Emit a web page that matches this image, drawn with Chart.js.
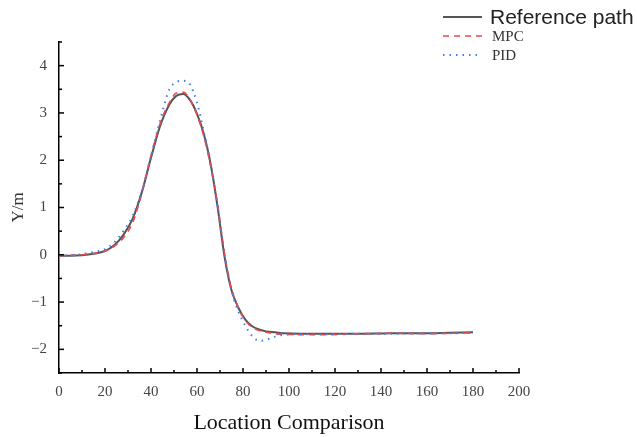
<!DOCTYPE html>
<html>
<head>
    <title>Location Comparison</title>
    <script src="https://cdn.jsdelivr.net/npm/chart.js"></script>
    <style>
        body { margin: 0; background: #fff; }
        canvas { display: block; }
    </style>
</head>
<body>
    <canvas id="pathChart" width="637" height="437"></canvas>

    <script>
        // x positions (m) shared by all three traces
        var xs = [0, 5, 10, 15, 20, 24, 28, 32, 36, 40, 44, 48, 51, 54, 57, 60, 63, 66, 69, 72,
                  75, 78, 81, 84, 87, 90, 94, 98, 105, 115, 130, 145, 160, 170, 180];

        var refPath = [-0.02, -0.02, -0.01, 0.02, 0.08, 0.2, 0.42, 0.76, 1.32, 2.05, 2.73, 3.18, 3.36, 3.4, 3.27, 2.98, 2.55, 1.9, 1.0, -0.05,
                       -0.75, -1.12, -1.37, -1.51, -1.58, -1.62, -1.64, -1.66, -1.67, -1.67, -1.67, -1.66, -1.66, -1.65, -1.64];

        var mpcPath = [-0.02, -0.01, 0.0, 0.03, 0.08, 0.18, 0.36, 0.68, 1.3, 2.1, 2.78, 3.22, 3.42, 3.44, 3.28, 2.96, 2.5, 1.86, 1.05, 0.02,
                       -0.72, -1.12, -1.39, -1.53, -1.6, -1.64, -1.67, -1.68, -1.69, -1.69, -1.67, -1.66, -1.67, -1.66, -1.65];

        var pidPath = [-0.02, -0.01, 0.01, 0.06, 0.12, 0.26, 0.5, 0.82, 1.35, 2.08, 2.85, 3.5, 3.65, 3.68, 3.6, 3.22, 2.6, 1.9, 0.98, 0.0,
                       -0.75, -1.2, -1.5, -1.72, -1.82, -1.8, -1.73, -1.69, -1.68, -1.68, -1.67, -1.67, -1.66, -1.66, -1.65];

        var xTicks = [0, 20, 40, 60, 80, 100, 120, 140, 160, 180, 200];
        var yTicks = [-2, -1, 0, 1, 2, 3, 4];

        function toPoints(ys) {
            return xs.map(function(x, i) { return { x: x, y: ys[i] }; });
        }

        var serif = '"Liberation Serif", "Times New Roman", serif';

        // ticks drawn pointing into the plot, long on labelled values, short between
        var inwardTicks = {
            id: 'inwardTicks',
            afterDraw: function(chart) {
                var ctx = chart.ctx;
                var sx = chart.scales.x, sy = chart.scales.y;
                var area = chart.chartArea;
                ctx.save();
                ctx.strokeStyle = '#000';
                ctx.lineWidth = 1.5;
                sx.ticks.forEach(function(t) {
                    var px = sx.getPixelForValue(t.value);
                    var len = xTicks.indexOf(t.value) >= 0 ? 5 : 3;
                    ctx.beginPath();
                    ctx.moveTo(px, area.bottom);
                    ctx.lineTo(px, area.bottom - len);
                    ctx.stroke();
                });
                sy.ticks.forEach(function(t) {
                    var py = sy.getPixelForValue(t.value);
                    var len = yTicks.indexOf(t.value) >= 0 ? 5 : 3;
                    ctx.beginPath();
                    ctx.moveTo(area.left, py);
                    ctx.lineTo(area.left + len, py);
                    ctx.stroke();
                });
                ctx.restore();
            }
        };

        // legend in the top right corner, outside the plot frame
        var cornerLegend = {
            id: 'cornerLegend',
            afterDraw: function(chart) {
                var ctx = chart.ctx;
                var entries = [
                    { ds: 0, y: 17, font: '21px "Liberation Sans", Arial, sans-serif', tx: 490, color: '#222' },
                    { ds: 1, y: 36, font: '15px ' + serif, tx: 492, color: '#333' },
                    { ds: 2, y: 55, font: '15px ' + serif, tx: 492, color: '#333' }
                ];
                ctx.save();
                entries.forEach(function(e) {
                    var d = chart.data.datasets[e.ds];
                    ctx.strokeStyle = d.borderColor;
                    ctx.lineWidth = d.borderWidth;
                    ctx.setLineDash(d.borderDash || []);
                    ctx.beginPath();
                    ctx.moveTo(443, e.y);
                    ctx.lineTo(482, e.y);
                    ctx.stroke();
                    ctx.setLineDash([]);
                    ctx.fillStyle = e.color;
                    ctx.font = e.font;
                    ctx.textBaseline = 'middle';
                    ctx.textAlign = 'left';
                    ctx.fillText(d.label, e.tx, e.y + 1);
                });
                ctx.restore();
            }
        };

        var ctx = document.getElementById('pathChart').getContext('2d');
        window.myChart = new Chart(ctx, {
            type: 'line',
            data: {
                datasets: [{
                    label: 'Reference path',
                    data: toPoints(refPath),
                    borderColor: '#555555',
                    borderWidth: 2,
                    pointRadius: 0,
                    cubicInterpolationMode: 'monotone',
                    order: 3
                }, {
                    label: 'MPC',
                    data: toPoints(mpcPath),
                    borderColor: '#f0474c',
                    borderWidth: 1.6,
                    borderDash: [6, 5],
                    pointRadius: 0,
                    cubicInterpolationMode: 'monotone',
                    order: 2
                }, {
                    label: 'PID',
                    data: toPoints(pidPath),
                    borderColor: '#3f7fe6',
                    borderWidth: 2,
                    borderDash: [1.5, 5],
                    pointRadius: 0,
                    cubicInterpolationMode: 'monotone',
                    order: 1
                }]
            },
            options: {
                responsive: false,
                animation: false,
                devicePixelRatio: 1,
                layout: { padding: { top: 42, right: 118, left: 0, bottom: 0 } },
                plugins: {
                    legend: { display: false },
                    tooltip: { enabled: false }
                },
                scales: {
                    x: {
                        type: 'linear',
                        min: 0,
                        max: 200,
                        afterFit: function(scale) { scale.height = 64; },
                        ticks: {
                            stepSize: 10,
                            autoSkip: false,
                            maxRotation: 0,
                            padding: 10,
                            color: '#444',
                            font: { family: serif, size: 15 },
                            callback: function(v) { return xTicks.indexOf(v) >= 0 ? String(v) : ''; }
                        },
                        grid: { drawOnChartArea: false, drawTicks: false },
                        border: { display: true, color: '#000', width: 1.5 },
                        title: {
                            display: true,
                            text: 'Location Comparison',
                            color: '#111',
                            font: { family: serif, size: 22 },
                            padding: { top: 0, bottom: 1 }
                        }
                    },
                    y: {
                        min: -2.5,
                        max: 4.5,
                        afterFit: function(scale) { scale.width = 59; },
                        ticks: {
                            stepSize: 0.5,
                            autoSkip: false,
                            padding: 12,
                            color: '#444',
                            font: { family: serif, size: 15 },
                            callback: function(v) {
                                if (yTicks.indexOf(v) < 0) return '';
                                return v < 0 ? '\u2212' + Math.abs(v) : String(v);
                            }
                        },
                        grid: { drawOnChartArea: false, drawTicks: false },
                        border: { display: true, color: '#000', width: 1.5 },
                        title: {
                            display: true,
                            text: 'Y/m',
                            color: '#333',
                            font: { family: serif, size: 17 },
                            padding: { top: 8, bottom: 0 }
                        }
                    }
                }
            },
            plugins: [inwardTicks, cornerLegend]
        });
    </script>
</body>
</html>
